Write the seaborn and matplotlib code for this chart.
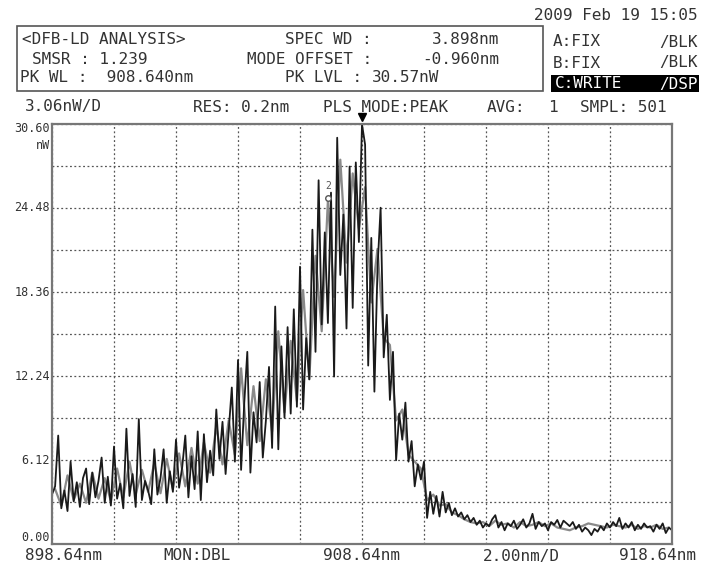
import numpy as np
import pandas as pd
import seaborn as sns
import matplotlib.pyplot as plt

# optical spectrum, 0.1 nm steps from 898.64 to 918.64 nm (nW)
power_main = [
    3.6, 4.2, 7.9, 2.6, 3.9, 2.4, 6.0, 3.1, 4.5, 2.7,
    4.8, 5.5, 2.9, 5.2, 3.4, 4.6, 6.3, 3.0, 4.9, 2.8,
    7.1, 3.3, 4.4, 2.6, 8.4, 3.5, 5.1, 2.7, 9.1, 3.2,
    4.6, 3.9, 2.9, 6.9, 3.6, 4.8, 6.9, 3.0, 5.3, 3.8,
    7.6, 4.1, 5.6, 7.9, 3.4, 6.4, 4.0, 8.2, 3.2, 8.0,
    4.5, 6.8, 5.0, 9.8, 6.2, 8.9, 5.1, 8.3, 11.4, 6.0,
    13.4, 5.4, 10.2, 14.0, 5.2, 9.6, 7.4, 11.8, 6.3, 9.0,
    12.9, 7.0, 17.3, 6.9, 14.4, 9.2, 15.8, 9.5, 17.1, 10.0,
    20.2, 9.8, 15.0, 12.0, 22.9, 14.0, 26.5, 16.0, 22.7, 16.1,
    25.6, 12.2, 29.6, 19.6, 24.0, 15.7, 27.5, 17.2, 27.8, 22.0,
    30.57, 29.1, 13.0, 22.3, 11.1, 20.1, 24.5, 13.6, 16.7, 10.5,
    14.0, 6.1, 9.5, 7.6, 10.3, 6.0, 7.5, 4.2, 5.8, 4.7,
    6.0, 1.9, 3.8, 2.2, 3.5, 2.0, 3.8, 2.3, 3.0, 2.1,
    2.6, 2.0, 2.3, 1.8, 2.1, 1.6, 1.9, 1.4, 1.7, 1.2,
    1.5, 1.3, 1.8, 2.1, 1.2, 1.6, 1.0, 1.5, 1.3, 1.7,
    1.1, 1.4, 1.8, 1.2, 1.5, 2.2, 1.1, 1.6, 1.3, 1.5,
    1.0, 1.6, 1.4, 1.75, 1.2, 1.7, 1.5, 1.3, 1.6, 1.1,
    1.4, 0.9, 1.2, 1.0, 0.65, 1.1, 0.9, 1.3, 1.0, 1.5,
    1.2, 1.6, 1.3, 1.9, 1.1, 1.5, 1.2, 1.6, 1.0, 1.4,
    1.1, 1.5, 1.2, 1.3, 0.9, 1.4, 1.1, 1.5, 0.8, 1.2,
    1.0,
]

# second (gray) sweep, 0.2 nm steps starting at 898.74 nm
power_gray = [
    4.0, 2.8, 5.0, 3.2, 4.4, 3.0, 5.2, 3.3, 4.8, 3.1,
    5.5, 3.4, 6.0, 3.6, 5.4, 3.8, 5.9, 3.7, 6.2, 4.0,
    6.6, 4.2, 7.0, 4.4, 7.4, 5.2, 8.6, 5.8, 9.0, 6.5,
    12.8, 7.2, 11.5, 7.5, 12.0, 8.2, 15.5, 9.6, 14.8, 10.4,
    18.5, 12.0, 21.0, 15.5, 25.0, 18.0, 28.0, 20.5, 27.0, 23.0,
    26.0, 17.6, 21.5, 15.0, 14.5, 9.0, 9.8, 6.5, 6.0, 5.5,
    3.2, 3.6, 2.8, 2.9, 2.3, 2.1, 1.8, 1.6, 1.5, 1.6,
    1.3, 1.7, 1.4, 1.5, 1.2, 1.6, 1.3, 1.4, 1.6, 1.3,
    1.5, 1.2, 1.1, 1.0, 1.2, 1.3, 1.5, 1.4, 1.3, 1.2,
    1.4, 1.3, 1.2, 1.4, 1.1, 1.3, 1.2, 1.4, 1.1, 1.2,
]

wl_start, wl_stop = 898.64, 918.64
y_max = 30.60
y_ticks = [0.00, 6.12, 12.24, 18.36, 24.48, 30.60]
y_labels = ["0.00", "6.12", "12.24", "18.36", "24.48", "30.60"]
peak_wl, peak_lvl = 908.64, 30.57
mark2_wl, mark2_lvl = 907.54, 25.2

main = pd.DataFrame({"wl": np.linspace(wl_start, wl_stop, len(power_main)),
                     "p": power_main})
gray = pd.DataFrame({"wl": np.linspace(wl_start + 0.1, wl_start + 0.1 + 0.2 * (len(power_gray) - 1),
                                       len(power_gray)),
                     "p": power_gray})

sns.set_style("white")
plt.rcParams["font.family"] = ["DejaVu Sans Mono"]
txt = "#333333"

fig = plt.figure(figsize=(7.02, 5.70), dpi=100)
ax = fig.add_axes([52 / 702, 26 / 570, 620 / 702, 420 / 570])

sns.lineplot(data=gray, x="wl", y="p", ax=ax, color="#8a8a8a", lw=1.6,
             estimator=None, sort=False)
sns.lineplot(data=main, x="wl", y="p", ax=ax, color="#1a1a1a", lw=1.3,
             estimator=None, sort=False)

ax.set_xlim(wl_start, wl_stop)
ax.set_ylim(0, y_max)
ax.set_xticks(np.linspace(wl_start, wl_stop, 11))
ax.set_yticks(np.linspace(0, y_max, 11))
ax.set_xticklabels([])
ax.set_yticklabels([])
ax.tick_params(length=0)
ax.grid(True, color="#555555", ls=(0, (1.5, 2)), lw=0.9)
ax.set_xlabel("")
ax.set_ylabel("")
for s in ax.spines.values():
    s.set_color("#777777")
    s.set_linewidth(1.6)

for v, lab in zip(y_ticks, y_labels):
    yv = min(max(v, 0.5), y_max - 0.3)
    ax.text(-0.003, yv, lab, transform=ax.get_yaxis_transform(), ha="right",
            va="center", fontsize=8.5, color=txt)
ax.text(-0.003, y_max - 1.6, "nW", transform=ax.get_yaxis_transform(),
        ha="right", va="center", fontsize=8.5, color=txt)

# peak marker and marker 2
ax.plot([peak_wl], [y_max + 0.5], marker="v", color="black", ms=6, clip_on=False)
ax.plot([mark2_wl], [mark2_lvl], marker="o", mfc="white", mec="#555555", ms=4)
ax.text(mark2_wl, mark2_lvl + 0.9, "2", ha="center", va="center", fontsize=7, color="#555555")

# header
fs = 11.5
fig.patches.append(plt.Rectangle((17 / 702, 1 - 91 / 570), 526 / 702, 65 / 570,
                                 transform=fig.transFigure, fill=False,
                                 ec="#555555", lw=1.2))


def put(x, y, s, ha="left", color=txt):
    fig.text(x / 702, 1 - y / 570, s, ha=ha, va="center", fontsize=fs, color=color)


put(22, 40, "<DFB-LD ANALYSIS>")
put(32, 59, "SMSR : 1.239")
put(20, 78, "PK WL :  908.640nm")
put(372, 40, "SPEC WD :", ha="right")
put(372, 59, "MODE OFFSET :", ha="right")
put(362, 78, "PK LVL :", ha="right")
put(372, 78, "30.57nW")
put(499, 40, "3.898nm", ha="right")
put(499, 59, "-0.960nm", ha="right")
put(698, 15, "2009 Feb 19 15:05", ha="right")
put(553, 42, "A:FIX")
put(698, 42, "/BLK", ha="right")
put(553, 63, "B:FIX")
put(698, 63, "/BLK", ha="right")
fig.patches.append(plt.Rectangle((551 / 702, 1 - 92 / 570), 148 / 702, 17 / 570,
                                 transform=fig.transFigure, fc="black", ec="none"))
put(555, 84, "C:WRITE", color="white")
put(698, 84, "/DSP", ha="right", color="white")

put(25, 107, "3.06nW/D")
put(193, 107, "RES: 0.2nm")
put(323, 107, "PLS MODE:PEAK")
put(487, 107, "AVG:")
put(558, 107, "1", ha="right")
put(580, 107, "SMPL: 501")

put(25, 556, "898.64nm")
put(163, 556, "MON:DBL")
put(362, 556, "908.64nm", ha="center")
put(521, 556, "2.00nm/D", ha="center")
put(696, 556, "918.64nm", ha="right")

fig.savefig("out.png", dpi=100)
